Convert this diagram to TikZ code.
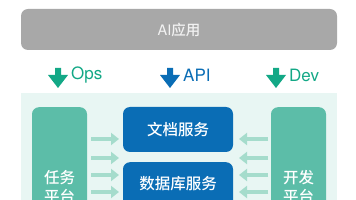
\documentclass[tikz,border=0pt]{standalone}
\usepackage{fontspec}
\setmainfont{TeX Gyre Heros}
\newfontfamily\cjk{Noto Sans CJK SC}[UprightFont={* Medium}]
\usetikzlibrary{arrows.meta}
\definecolor{grayb}{HTML}{A8A8A8}
\definecolor{gtxt}{HTML}{F2F2F2}
\definecolor{grn}{HTML}{13A886}
\definecolor{blu}{HTML}{0A6DB5}
\definecolor{bgm}{HTML}{E8F6F3}
\definecolor{boxg}{HTML}{5CBDA8}
\definecolor{lgrn}{HTML}{A5DCCC}
\tikzset{
  lbl/.style={font=\fontsize{17}{17}\selectfont, text=#1, anchor=west, inner sep=0pt},
  sidebox/.style={fill=boxg, draw=none, rounded corners=7pt, minimum width=55pt, minimum height=110pt, inner sep=0pt},
  boxtxt/.style={font=\cjk\fontsize{15.5}{15.5}\selectfont, text=white},
  svcbox/.style={fill=blu, draw=none, rounded corners=7pt, minimum width=110pt, minimum height=45pt, inner sep=0pt, boxtxt},
  smallarr/.style={draw=lgrn, line width=4.5pt, -{Triangle[length=8pt,width=12pt]}},
}
\begin{document}
\begin{tikzpicture}[x=1pt,y=-1pt]
\useasboundingbox (0,0) rectangle (356,200);
\clip (0,0) rectangle (356,200);
% top box
\node[fill=grayb, rounded corners=7pt, minimum width=316pt, minimum height=41pt, inner sep=0pt,
  text=gtxt, font=\fontsize{14.5}{14.5}\selectfont] (app) at (179,29.5) {AI{\cjk 应用}};
% background panel
\fill[bgm] (21,93) rectangle (337,215);
% big arrows
\foreach \x/\c/\n in {58/grn/ops,170/blu/api,276/grn/dev}{
  \fill[\c] (\x-3,68) -- (\x+3,68) -- (\x+3,75) -- (\x+10,75) -- (\x,88) -- (\x-10,75) -- (\x-3,75) -- cycle;
  \coordinate (\n) at (\x+13,75);
}
\node[lbl=grn] (opsl) at (ops) {Ops};
\node[lbl=blu] (apil) at (api) {API};
\node[lbl=grn] (devl) at (dev) {Dev};
% side boxes
\node[sidebox, anchor=north] (task) at (59.5,107) {};
\node[sidebox, anchor=north] (devp) at (298.5,107) {};
\node[boxtxt, align=center, anchor=north] (tasktxt) at (59.5,167) {任务\\[3pt]平台};
\node[boxtxt, align=center, anchor=north] (devtxt) at (298.5,167) {开发\\[3pt]平台};
% service boxes
\node[svcbox] (doc) at (178,129.5) {文档服务};
\node[svcbox, anchor=north] (db) at (178,162) {};
\node[boxtxt] (dbt) at (178,184) {数据库服务};
% small arrows
\foreach \y/\i in {139/a,158/b,175/c,192/d}{
  \coordinate (la\i) at (91,\y); \coordinate (lb\i) at (119,\y);
  \coordinate (ra\i) at (268,\y); \coordinate (rb\i) at (239,\y);
  \draw[smallarr] (la\i) -- (lb\i);
  \draw[smallarr] (ra\i) -- (rb\i);
}
\end{tikzpicture}
\end{document}
